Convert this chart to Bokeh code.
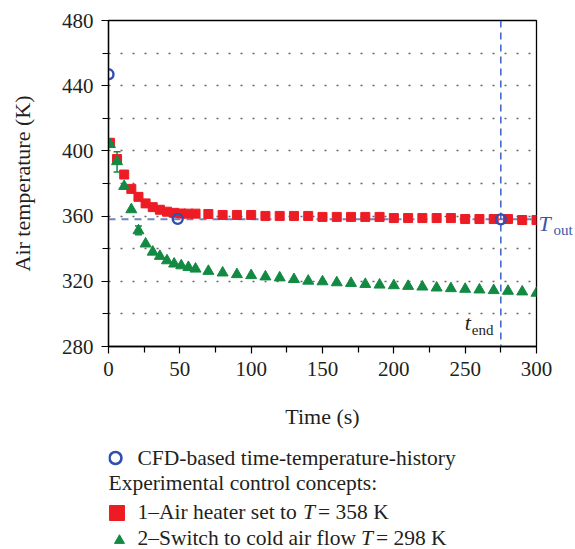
from bokeh.plotting import figure
from bokeh.models import (Range1d, FixedTicker, Label, Whisker, ColumnDataSource, Span, TeeHead,
                          LinearAxis)
from bokeh.layouts import column
from bokeh.core.properties import value
from bokeh.embed import file_html
from bokeh.resources import INLINE

# ---------------- data ----------------
time_s = [1, 6, 11, 16, 21, 26, 31, 36, 41, 46, 51, 56, 61,
          70, 80, 90, 100, 110, 120, 130, 140, 150, 160, 170, 180,
          190, 200, 210, 220, 230, 240, 250, 260, 270, 280, 290, 300]
heater_T = [405, 395, 385.5, 376.7, 371.8, 367.8, 365.5, 363.9, 362.7, 362, 361.6, 361.5, 361.5,
            361.3, 360.7, 360.7, 360.7, 360.1, 360.1, 360.1, 360.1, 359.5, 359.5, 359.5, 359.5,
            359.5, 358.8, 358.8, 358.8, 358.8, 358.8, 358.2, 358.2, 358.2, 358.2, 357.6, 357.6]
cold_T = [404, 393.5, 378.3, 364, 351.1, 343, 338, 335.4, 332.7, 330.7, 329.6, 328.6, 327.6,
          326.2, 325.2, 324.2, 323.6, 322.8, 322.2, 321.2, 320.2, 319.8, 319.2, 318.8, 318.2,
          317.8, 317.4, 317, 316.6, 316, 315.6, 315.2, 314.8, 314.4, 314, 313.6, 312.8]
err_t = [6, 21]
err_lower = [387, 348.5]
err_upper = [399.5, 354]
cfd_t = [0, 48.5, 275]
cfd_T = [447, 358.3, 358]
T_out = 358
t_end = 275
x_ticks = [0, 50, 100, 150, 200, 250, 300]
x_minor = [25, 75, 125, 175, 225, 275]
y_ticks = [280, 320, 360, 400, 440, 480]
y_minor = [300, 340, 380, 420, 460]
grid_lines = [300, 320, 340, 360, 380, 400, 420, 440, 460]

FONT = "Liberation Serif"
TXT = "#231f20"
RED = "#ed1c24"
GREEN = "#138a43"
BLUE = "#2f4fae"
LBLUE = "#3a56a6"

p = figure(width=575, height=440, x_range=Range1d(0, 300), y_range=Range1d(280, 480),
           output_backend="svg", toolbar_location=None,
           min_border_left=108, min_border_right=38, min_border_top=20, min_border_bottom=94)
p.background_fill_color = "white"
p.outline_line_color = "black"
p.outline_line_width = 1.3

p.xaxis.ticker = FixedTicker(ticks=x_ticks, minor_ticks=x_minor)
p.yaxis.ticker = FixedTicker(ticks=y_ticks, minor_ticks=y_minor)
for ax in (p.xaxis[0], p.yaxis[0]):
    ax.axis_line_color = "black"
    ax.axis_line_width = 1.3
    ax.major_tick_line_color = "black"
    ax.minor_tick_line_color = "black"
    ax.major_tick_line_width = 1.2
    ax.minor_tick_line_width = 1.2
    ax.major_tick_in = 0
    ax.major_tick_out = 7
    ax.minor_tick_in = 0
    ax.minor_tick_out = 6
    ax.major_label_text_font = FONT
    ax.major_label_text_font_size = "21px"
    ax.major_label_text_color = TXT
    ax.axis_label_text_font = FONT
    ax.axis_label_text_font_size = "22px"
    ax.axis_label_text_font_style = "normal"
    ax.axis_label_text_color = TXT
    ax.major_label_standoff = 8
p.xaxis.axis_label = "Time (s)"
p.yaxis.axis_label = "Air temperature (K)"
p.xaxis.axis_label_standoff = 25
p.yaxis.axis_label_standoff = 24

p.xgrid.visible = False
p.ygrid.ticker = FixedTicker(ticks=grid_lines)
p.ygrid.grid_line_color = "#666666"
p.ygrid.grid_line_dash = "2 10"
p.ygrid.grid_line_width = 1.3

p.add_layout(Span(location=T_out, dimension="width", line_color="#6f85c4",
                  line_dash="7 6", line_width=2, level="underlay"))
p.add_layout(Span(location=t_end, dimension="height", line_color="#2b55c8",
                  line_dash="7 5", line_width=1.4, level="underlay"))

src_err = ColumnDataSource(dict(t=err_t, lo=err_lower, up=err_upper))
p.add_layout(Whisker(source=src_err, base="t", lower="lo", upper="up", line_color=GREEN,
                     line_width=1.5,
                     lower_head=TeeHead(size=7, line_color=GREEN, line_width=1.5),
                     upper_head=TeeHead(size=7, line_color=GREEN, line_width=1.5)))

p.scatter(time_s, heater_T, marker="square", size=9, fill_color=RED, line_color=RED)
p.scatter(time_s, cold_T, marker="triangle", size=11, fill_color=GREEN, line_color=GREEN)
p.scatter(cfd_t, cfd_T, marker="circle", size=10, fill_color=None, line_color=BLUE, line_width=2.4)

# T_out marker text on the right side (two right axes, the second one shifted down for the subscript)
p.extra_y_ranges = {"t_main": Range1d(282.5, 482.5), "t_sub": Range1d(286.5, 486.5)}
ax_T = LinearAxis(y_range_name="t_main", ticker=FixedTicker(ticks=[T_out], minor_ticks=[]),
                  major_label_overrides={T_out: "T"})
ax_sub = LinearAxis(y_range_name="t_sub", ticker=FixedTicker(ticks=[T_out], minor_ticks=[]),
                    major_label_overrides={T_out: "out"})
for ax, size, style, stand in ((ax_T, "22px", "italic", 2), (ax_sub, "15px", "normal", 0)):
    ax.axis_line_color = None
    ax.major_tick_line_color = None
    ax.minor_tick_line_color = None
    ax.major_tick_out = 0
    ax.major_tick_in = 0
    ax.major_label_standoff = stand
    ax.major_label_text_font = FONT
    ax.major_label_text_font_size = size
    ax.major_label_text_font_style = style
    ax.major_label_text_color = LBLUE
    p.add_layout(ax, "right")

p.add_layout(Label(x=t_end, y=280, x_offset=-36, y_offset=24, text="t", text_font=FONT,
                   text_font_style="italic", text_font_size="22px", text_color=TXT,
                   text_baseline="alphabetic"))
p.add_layout(Label(x=t_end, y=280, x_offset=-29, y_offset=17, text="end", text_font=FONT,
                   text_font_size="15px", text_color=TXT, text_baseline="alphabetic"))

# ---------------- legend panel ----------------
lg = figure(width=575, height=109, x_range=Range1d(108, 537), y_range=Range1d(109, 0),
            output_backend="svg", toolbar_location=None,
            min_border_left=108, min_border_right=38, min_border_top=0, min_border_bottom=0,
            x_axis_location=None, y_axis_location=None)
lg.grid.visible = False
lg.outline_line_color = None

lg.scatter([115], [17.5], marker="circle", size=12, fill_color=None, line_color=BLUE, line_width=2.6)
lg.scatter([116.5], [72.5], marker="square", size=15, fill_color=RED, line_color=RED)
lg.scatter([119], [100], marker="triangle", size=10, fill_color=GREEN, line_color=GREEN)

leg_font = "21.5px"
lg.text(x=[137, 108, 137, 318, 137, 376],
        y=[17.5, 42, 71, 71, 97, 97],
        text=["CFD-based time-temperature-history", "Experimental control concepts:",
              "1\u2013Air heater set to", "= 358 K", "2\u2013Switch to cold air flow", "= 298 K"],
        text_font=value(FONT), text_font_size=leg_font, text_color=TXT, text_baseline="alphabetic")
lg.text(x=[303, 361], y=[71, 97], text=["T", "T"], text_font=value(FONT), text_font_style="italic",
        text_font_size=leg_font, text_color=TXT, text_baseline="alphabetic")

layout = column(p, lg, spacing=0)
open("out.html", "w").write(file_html(layout, INLINE))
